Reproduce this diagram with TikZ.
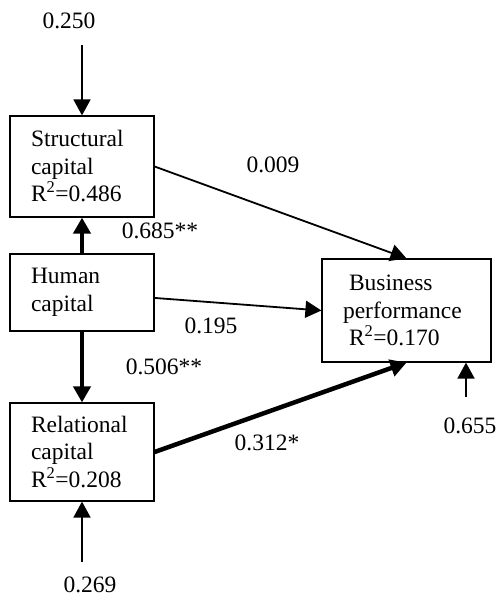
\documentclass[tikz,border=0pt]{standalone}
\usepackage{fontspec}
\setmainfont{Liberation Serif}
\usetikzlibrary{arrows.meta}

\begin{document}
\begin{tikzpicture}[x=1pt,y=-1pt,
    >={Triangle[length=16pt,width=17pt]},
    var/.style={draw,line width=1.2pt,align=left,inner xsep=21pt,inner ysep=0pt,
        font=\fontsize{23.5}{27.5}\selectfont},
    coef/.style={inner sep=0pt,font=\fontsize{23.5}{27.5}\selectfont},
    link/.style={->,line width=1.8pt},
    strong/.style={->,line width=4.5pt}]
    \useasboundingbox (0,0) rectangle (499,599);
    % latent variables
    \node[var,text width=102pt,minimum height=101pt] (sc) at (82,166.5) {Structural\\capital\\R\textsuperscript{2}=0.486};
    \node[var,text width=102pt,minimum height=77pt] (hc) at (82,292.5) {Human\\capital};
    \node[var,text width=102pt,minimum height=98pt] (rc) at (82,452) {Relational\\capital\\R\textsuperscript{2}=0.208};
    \node[var,text width=127pt,minimum height=103pt] (bp) at (406.5,310.5) {\hspace*{6pt}Business\\performance\\\hspace*{6pt}R\textsuperscript{2}=0.170};
    % error terms
    \node[coef] (e_s) at (69,21) {0.250};
    \node[coef] (e_r) at (90,585) {0.269};
    \node[coef] (e_b) at (470,426) {0.655};
    \coordinate (s_err) at (82,45);
    \coordinate (r_err) at (82,562);
    \coordinate (b_err) at (466,397);
    % path coefficients
    \node[coef] (c_sb) at (273,165) {0.009};
    \node[coef] (c_hs) at (160,231) {0.685**};
    \node[coef] (c_hb) at (211,326) {0.195};
    \node[coef] (c_hr) at (164,367) {0.506**};
    \node[coef] (c_rb) at (267,443) {0.312*};
    \path
    (hc) edge [strong] (sc)
         edge [strong] (rc)
         edge [link] (bp.west)
    (sc.east) edge [link] (bp.north)
    (rc.east) edge [strong] (bp.south);
    \draw[link] (s_err) -- (sc);
    \draw[link] (r_err) -- (rc);
    \draw[link] (b_err) -- (b_err |- bp.south);
\end{tikzpicture}
\end{document}
